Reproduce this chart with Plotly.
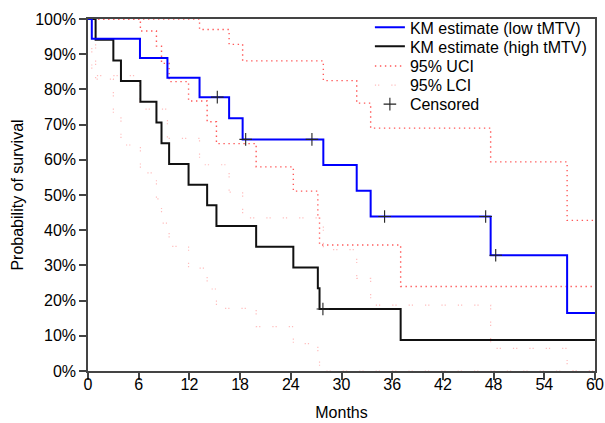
import plotly.graph_objects as go

# ---- data ----
low_times = [0, 0.45, 6.15, 9.4, 13.2, 16.7, 18.3, 27.85, 31.8, 33.45, 47.65, 56.7]
low_surv = [100, 94.4, 88.9, 83.3, 77.8, 71.8, 65.8, 58.5, 51.2, 43.9, 32.9, 16.5]
low_uci = [100, 100, 100, 100, 97.0, 92.8, 88.1, 82.5, 76.1, 69.0, 59.4, 42.8]
low_lci = [100, 83.9, 74.4, 66.1, 58.6, 50.8, 43.5, 34.5, 26.3, 18.7, 6.4, 0]
low_cens_t = [15.3, 18.66, 26.5, 35.1, 47.06, 48.25]
low_cens_s = [77.8, 65.8, 65.8, 43.9, 43.9, 32.9]

high_times = [0, 0.9, 3.0, 3.9, 6.2, 8.1, 8.7, 9.6, 11.9, 14.1, 15.2, 19.9, 24.3, 27.2, 27.4, 37.0]
high_surv = [100, 94.1, 88.2, 82.4, 76.5, 70.6, 64.7, 58.8, 52.9, 47.1, 41.2, 35.3, 29.4, 23.5, 17.6, 8.8]
high_uci = [100, 100, 100, 100, 96.6, 92.3, 87.4, 82.2, 76.7, 70.8, 64.6, 58.0, 51.1, 43.7, 35.8, 24.0]
high_lci = [100, 82.9, 72.9, 64.2, 56.3, 48.9, 42.0, 35.4, 29.2, 23.3, 17.8, 12.6, 7.8, 3.4, 0, 0]
high_cens_t = [27.8]
high_cens_s = [17.6]

x_ticks = [0, 6, 12, 18, 24, 30, 36, 42, 48, 54, 60]
y_ticks = [0, 10, 20, 30, 40, 50, 60, 70, 80, 90, 100]
y_tick_labels = [f"{v}%" for v in y_ticks]
END = 60


def ext(t, v):
    return list(t) + [END], list(v) + [v[-1]]


FONT = "Liberation Sans, Arial, sans-serif"
FS = 16
UCI_COL = "#ff5a5a"
LCI_COL = "#ffbcbc"
uci_line = dict(color=UCI_COL, width=1.4, dash="1.4px,3.6px", shape="hv")
lci_line = dict(color=LCI_COL, width=1.2, dash="1.2px,2px,1.2px,12px", shape="hv")

fig = go.Figure()

for i, (t, v) in enumerate([(low_times, low_uci), (high_times, high_uci)]):
    x, y = ext(t, v)
    fig.add_trace(go.Scatter(x=x, y=y, mode="lines", line=uci_line, name="95% UCI",
                             legend="legend3", showlegend=(i == 0), hoverinfo="skip"))
for i, (t, v) in enumerate([(low_times, low_lci), (high_times, high_lci)]):
    x, y = ext(t, v)
    fig.add_trace(go.Scatter(x=x, y=y, mode="lines", line=lci_line, name="95% LCI",
                             legend="legend4", showlegend=(i == 0), hoverinfo="skip"))

x, y = ext(high_times, high_surv)
fig.add_trace(go.Scatter(x=x, y=y, mode="lines", name="KM estimate (high tMTV)",
                         line=dict(color="#111111", width=2, shape="hv"), legend="legend2"))
x, y = ext(low_times, low_surv)
fig.add_trace(go.Scatter(x=x, y=y, mode="lines", name="KM estimate (low tMTV)",
                         line=dict(color="#0000ff", width=2, shape="hv"), legend="legend"))

cens_marker = dict(symbol="cross-thin", size=9, line=dict(color="#222222", width=1.1), color="#222222")
fig.add_trace(go.Scatter(x=low_cens_t, y=low_cens_s, mode="markers", marker=cens_marker,
                         name="Censored", legend="legend5"))
fig.add_trace(go.Scatter(x=high_cens_t, y=high_cens_s, mode="markers", marker=cens_marker,
                         name="Censored", showlegend=False))

axis_common = dict(showline=True, mirror=True, linecolor="#444444", linewidth=1.5,
                   ticks="outside", ticklen=7, tickcolor="#444444", tickwidth=1.5,
                   showgrid=False, zeroline=False, automargin=False,
                   ticklabeloverflow="allow",
                   tickfont=dict(family=FONT, size=FS, color="#000000"))

legend_x = 0.556
legend_ys = [0.976, 0.922, 0.866, 0.812, 0.758]


def leg(yv):
    return dict(x=legend_x, y=yv, xanchor="left", yanchor="middle",
                bgcolor="rgba(255,255,255,0)", font=dict(family=FONT, size=FS),
                itemwidth=30)


fig.update_layout(
    width=605, height=423,
    margin=dict(l=88, r=10, t=19, b=52),
    paper_bgcolor="white", plot_bgcolor="white",
    font=dict(family=FONT, size=FS, color="#000000"),
    xaxis=dict(range=[0, 60], tickvals=x_ticks, ticklabelstandoff=-9,
               title=dict(text="Months", standoff=15, font=dict(family=FONT, size=FS)),
               **axis_common),
    yaxis=dict(range=[0, 100], tickvals=y_ticks, ticktext=y_tick_labels,
               title=dict(text="Probability of survival", standoff=8,
                          font=dict(family=FONT, size=FS)), **axis_common),
    legend=leg(legend_ys[0]),
    legend2=leg(legend_ys[1]),
    legend3=leg(legend_ys[2]),
    legend4=leg(legend_ys[3]),
    legend5=leg(legend_ys[4]),
    showlegend=True,
)

fig.write_html("out.html", config={"displayModeBar": False},
               post_script="document.body.style.margin='0';document.body.style.overflow='hidden';")
